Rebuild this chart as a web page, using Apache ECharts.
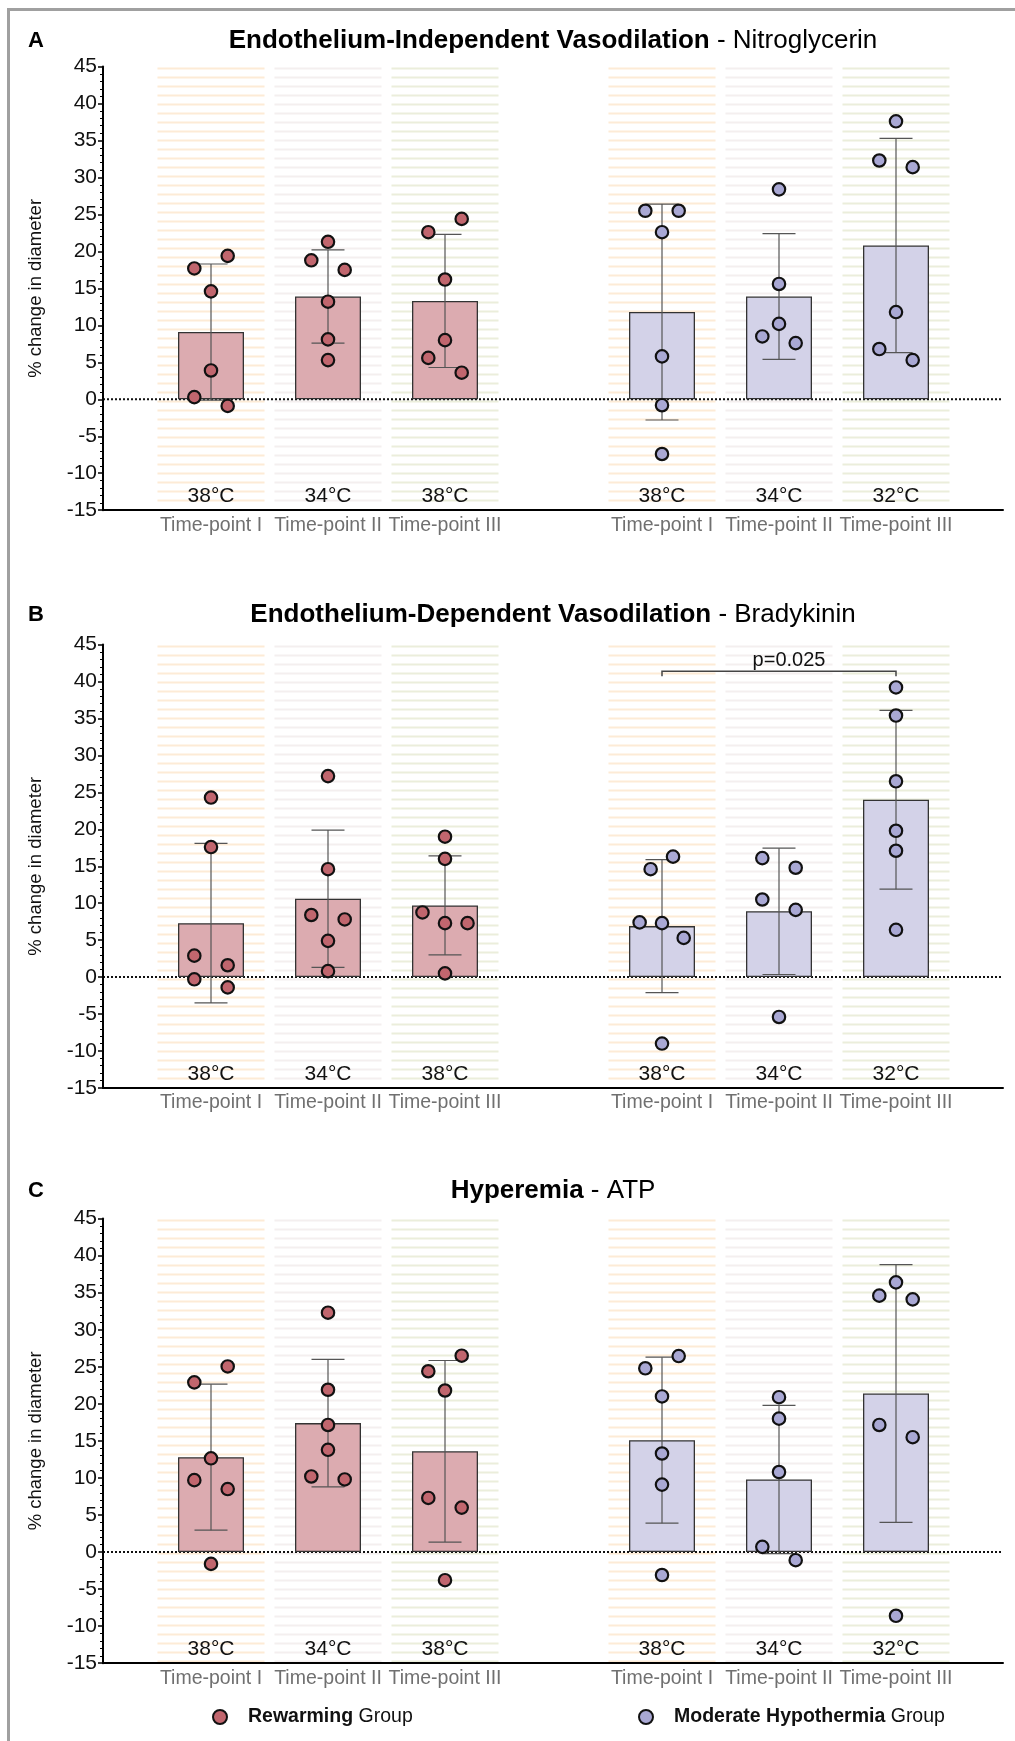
<!DOCTYPE html>
<html><head><meta charset="utf-8">
<script src="https://cdn.jsdelivr.net/npm/echarts@6/dist/echarts.min.js"></script>
<style>html,body{margin:0;padding:0;background:#fff}#c{width:1015px;height:1741px}</style>
</head><body><div id="c"></div><script>
// ---------------- DATA ----------------
const timePoints = ['Time-point I', 'Time-point II', 'Time-point III'];
const rewTemps = ['38°C', '34°C', '38°C'];
const hypTemps = ['38°C', '34°C', '32°C'];
const groupNames = ['Rewarming Group', 'Moderate Hypothermia Group'];
const yMin = -15, yMax = 45, yStep = 5;

// A: Nitroglycerin
const ntgRewMean = [9.1, 13.9, 13.3];
const ntgRewSD = [9.2, 6.3, 9.0];
const ntgHypMean = [11.8, 13.9, 20.8];
const ntgHypSD = [14.6, 8.5, 14.5];
const ntgRewPts = [[0.3, -0.9, 3.9, 14.6, 17.7, 19.4], [21.3, 18.8, 17.5, 13.2, 8.1, 5.3], [24.4, 22.6, 16.2, 8.0, 5.6, 3.6]];
const ntgRewSide = [[-1, 1, 0, 0, -1, 1], [0, -1, 1, 0, 0, 0], [1, -1, 0, 0, -1, 1]];
const ntgHypPts = [[25.5, 25.5, 22.6, 5.8, -0.8, -7.4], [28.4, 15.6, 10.2, 8.5, 7.6], [37.6, 32.3, 31.4, 11.8, 6.8, 5.3]];
const ntgHypSide = [[-1, 1, 0, 0, 0, 0], [0, 0, 0, -1, 1], [0, -1, 1, 0, -1, 1]];

// B: Bradykinin
const bkRewMean = [7.3, 10.6, 9.7];
const bkRewSD = [10.8, 9.3, 6.7];
const bkHypMean = [6.9, 8.9, 24.0];
const bkHypSD = [9.0, 8.55, 12.1];
const bkRewPts = [[24.3, 17.6, 2.9, 1.6, -0.3, -1.4], [27.2, 14.6, 8.4, 7.8, 4.9, 0.8], [19.0, 16.0, 8.75, 7.3, 7.3, 0.5]];
const bkRewSide = [[0, 0, -1, 1, -1, 1], [0, 0, -1, 1, 0, 0], [0, 0, -1.35, 0, 1.35, 0]];
const bkHypPts = [[16.3, 14.6, 7.4, 7.3, 5.3, -9.0], [16.1, 14.8, 10.5, 9.1, -5.4], [39.2, 35.4, 26.5, 19.8, 17.1, 6.4]];
const bkHypSide = [[0.66, -0.68, -1.34, 0, 1.3, 0], [-1, 1, -1, 1, 0], [0, 0, 0, 0, 0, 0]];
const bkBracket = [0, 2, 41.4];          // from category, to category, level
const bkBracketLabel = 'p=0.025';

// C: ATP
const atpRewMean = [12.8, 17.4, 13.6];
const atpRewSD = [9.85, 8.6, 12.25];
const atpHypMean = [15.1, 9.8, 21.4];
const atpHypSD = [11.2, 10.0, 17.4];
const atpRewPts = [[25.05, 22.9, 12.65, 9.7, 8.5, -1.6], [32.3, 21.9, 17.15, 13.8, 10.2, 9.8], [26.5, 24.4, 21.8, 7.3, 6.0, -3.8]];
const atpRewSide = [[1, -1, 0, -1, 1, 0], [0, 0, 0, 0, -1, 1], [1, -1, 0, -1, 1, 0]];
const atpHypPts = [[26.45, 24.8, 21.0, 13.3, 9.1, -3.1], [20.9, 18.0, 10.8, 0.7, -1.1], [36.4, 34.6, 34.1, 17.15, 15.5, -8.6]];
const atpHypSide = [[1, -1, 0, 0, 0, 0], [0, 0, 0, -1, 1], [0, -1, 1, -1, 1, 0]];

// ---------------- LAYOUT / STYLE ----------------
const FONT = '"Liberation Sans", Arial, Helvetica, sans-serif';
const FRAME_L = 103, FRAME_R = 1003;
const GROUP_L = [152.5, 603.5], GROUP_W = 351;
const BAR_W = 66, CAP_HALF = 0.141, JIT = 0.1427, STRIPE_W = 0.915;
const ptColors = ['#c1666e', '#a9a8d4'];
const barColors = ['#dcabb0', '#d3d2e8'];
const stripeColors = ['#fdebd6', '#f4efef', '#ebeedb'];

const panels = [
  { letter: 'A', tb: 'Endothelium-Independent Vasodilation', tr: ' - Nitroglycerin', top: 66.6, bottom: 510.2, titleY: 40.5,
    mean: [ntgRewMean, ntgHypMean], sd: [ntgRewSD, ntgHypSD], pts: [ntgRewPts, ntgHypPts], side: [ntgRewSide, ntgHypSide] },
  { letter: 'B', tb: 'Endothelium-Dependent Vasodilation', tr: ' - Bradykinin', top: 644.6, bottom: 1087.9, titleY: 614.5,
    mean: [bkRewMean, bkHypMean], sd: [bkRewSD, bkHypSD], pts: [bkRewPts, bkHypPts], side: [bkRewSide, bkHypSide], bracket: true },
  { letter: 'C', tb: 'Hyperemia', tr: ' - ATP', top: 1218.6, bottom: 1663.2, titleY: 1190.5,
    mean: [atpRewMean, atpHypMean], sd: [atpRewSD, atpHypSD], pts: [atpRewPts, atpHypPts], side: [atpRewSide, atpHypSide] }
];

const option = { animation: false, backgroundColor: '#fff', grid: [], xAxis: [], yAxis: [], series: [], graphic: [], legend: [] };

panels.forEach((p) => {
  const h = p.bottom - p.top;
  const g0 = option.grid.length;
  option.grid.push({ left: FRAME_L, top: p.top, width: FRAME_R - FRAME_L, height: h });
  option.grid.push({ left: GROUP_L[0], top: p.top, width: GROUP_W, height: h });
  option.grid.push({ left: GROUP_L[1], top: p.top, width: GROUP_W, height: h });

  // frame axes
  const fx = option.xAxis.length;
  option.xAxis.push({ gridIndex: g0, type: 'value', min: 0, max: 1, z: 8,
    axisLine: { show: true, onZero: false, lineStyle: { color: '#000', width: 2 } },
    axisTick: { show: false }, axisLabel: { show: false }, splitLine: { show: false } });
  const fy = option.yAxis.length;
  option.yAxis.push({ gridIndex: g0, type: 'value', min: yMin, max: yMax, interval: yStep, z: 8,
    axisLine: { show: true, onZero: false, lineStyle: { color: '#000', width: 2 } },
    axisTick: { show: true, length: 5, lineStyle: { color: '#000', width: 1.5 } },
    minorTick: { show: true, splitNumber: 5, length: 3, lineStyle: { color: '#000', width: 1 } },
    axisLabel: { fontSize: 21, color: '#111', margin: 6, fontFamily: FONT },
    splitLine: { show: false },
    name: '% change in diameter', nameLocation: 'middle', nameGap: 58,
    nameTextStyle: { fontSize: 18.5, color: '#111', fontFamily: FONT } });
  option.series.push({ type: 'line', xAxisIndex: fx, yAxisIndex: fy, data: [[0, 0], [1, 0]], symbol: 'none', silent: true, z: 2,
    lineStyle: { color: '#111', width: 2, type: [2, 2] } });

  [0, 1].forEach((gi) => {
    const g = g0 + 1 + gi;
    const xi = option.xAxis.length;
    option.xAxis.push({ gridIndex: g, type: 'category', data: timePoints, position: 'bottom', z: 10,
      axisLine: { show: false }, axisTick: { show: false }, splitLine: { show: false },
      axisLabel: { interval: 0, fontSize: 19.5, color: '#707070', margin: 5, fontFamily: FONT } });
    option.xAxis.push({ gridIndex: g, type: 'category', data: gi === 0 ? rewTemps : hypTemps, position: 'bottom', z: 10,
      axisLine: { show: false }, axisTick: { show: false }, splitLine: { show: false },
      axisLabel: { interval: 0, inside: true, fontSize: 21, color: '#111', margin: 3.5, fontFamily: FONT } });
    const yi = option.yAxis.length;
    option.yAxis.push({ gridIndex: g, type: 'value', min: yMin, max: yMax, show: false });

    // striped background columns
    option.series.push({ type: 'custom', xAxisIndex: xi, yAxisIndex: yi, silent: true, z: 1,
      data: timePoints.map((_, i) => [i, yMax]), encode: { x: 0, y: 1 },
      renderItem: (params, api) => {
        const i = api.value(0);
        const t = api.coord([i, yMax]), b = api.coord([i, yMin]);
        const w = api.size([1, 0])[0] * STRIPE_W;
        const ch = [];
        for (let y = t[1] + 1; y < b[1] - 2; y += 9) {
          ch.push({ type: 'rect', shape: { x: t[0] - w / 2, y: y, width: w, height: 2 }, style: { fill: stripeColors[i] } });
        }
        return { type: 'group', children: ch };
      } });

    // mean bars
    option.series.push({ type: 'bar', xAxisIndex: xi, yAxisIndex: yi, silent: true, z: 3, barWidth: BAR_W,
      data: p.mean[gi], itemStyle: { color: barColors[gi], borderColor: '#333', borderWidth: 1.3 } });

    // SD error bars
    option.series.push({ type: 'custom', xAxisIndex: xi, yAxisIndex: yi, silent: true, z: 4,
      data: p.mean[gi].map((m, i) => [i, m, p.sd[gi][i]]), encode: { x: 0, y: 1 },
      renderItem: (params, api) => {
        const i = api.value(0), m = api.value(1), s = api.value(2);
        const hi = api.coord([i, m + s]), lo = api.coord([i, m - s]);
        const cw = api.size([1, 0])[0] * CAP_HALF;
        const st = { stroke: '#555', lineWidth: 1.2 };
        return { type: 'group', children: [
          { type: 'line', shape: { x1: hi[0], y1: hi[1], x2: lo[0], y2: lo[1] }, style: st },
          { type: 'line', shape: { x1: hi[0] - cw, y1: hi[1], x2: hi[0] + cw, y2: hi[1] }, style: st },
          { type: 'line', shape: { x1: lo[0] - cw, y1: lo[1], x2: lo[0] + cw, y2: lo[1] }, style: st }
        ] };
      } });

    // individual points
    const pd = [];
    p.pts[gi].forEach((arr, i) => arr.forEach((v, k) => pd.push([i, v, p.side[gi][i][k]])));
    option.series.push({ type: 'custom', name: groupNames[gi], xAxisIndex: xi, yAxisIndex: yi, silent: true, z: 5,
      data: pd, encode: { x: 0, y: 1 }, itemStyle: { color: ptColors[gi] },
      renderItem: (params, api) => {
        const c = api.coord([api.value(0), api.value(1)]);
        const w = api.size([1, 0])[0];
        return { type: 'circle', shape: { cx: c[0] + api.value(2) * JIT * w, cy: c[1], r: 6.2 },
          style: { fill: ptColors[gi], stroke: '#111', lineWidth: 2.2 } };
      } });

    // significance bracket
    if (p.bracket && gi === 1) {
      option.series.push({ type: 'custom', xAxisIndex: xi, yAxisIndex: yi, silent: true, z: 6,
        data: [bkBracket], encode: { x: 0, y: 2 },
        renderItem: (params, api) => {
          const a = api.coord([api.value(0), api.value(2)]);
          const b = api.coord([api.value(1), api.value(2)]);
          const st = { stroke: '#444', lineWidth: 1.5, fill: null };
          return { type: 'group', children: [
            { type: 'polyline', shape: { points: [[a[0], a[1] + 5], [a[0], a[1]], [b[0], b[1]], [b[0], b[1] + 5]] }, style: st },
            { type: 'text', x: (a[0] + b[0]) / 2 + 10, y: a[1] - 1,
              style: { text: bkBracketLabel, fontSize: 20, fontFamily: FONT, fill: '#111', align: 'center', verticalAlign: 'bottom' } }
          ] };
        } });
    }
  });

  // title and letter
  option.graphic.push({ type: 'text', x: (FRAME_L + FRAME_R) / 2, y: p.titleY, silent: true,
    style: { text: '{b|' + p.tb + '}{r|' + p.tr + '}', align: 'center', verticalAlign: 'middle',
      rich: { b: { fontWeight: 'bold', fontSize: 26, fontFamily: FONT, fill: '#000' },
              r: { fontSize: 26, fontFamily: FONT, fill: '#000' } } } });
  option.graphic.push({ type: 'text', x: 28, y: p.titleY, silent: true,
    style: { text: p.letter, fontWeight: 'bold', fontSize: 22, fontFamily: FONT, fill: '#000', align: 'left', verticalAlign: 'middle' } });
});

// frame border
option.graphic.push({ type: 'line', silent: true, shape: { x1: 8.5, y1: 8, x2: 8.5, y2: 1741 }, style: { stroke: '#a0a0a0', lineWidth: 3 } });
option.graphic.push({ type: 'line', silent: true, shape: { x1: 7, y1: 9.5, x2: 1015, y2: 9.5 }, style: { stroke: '#a0a0a0', lineWidth: 3 } });

// legend
const legendLefts = [212, 638];
const legendBold = ['Rewarming', 'Moderate Hypothermia'];
groupNames.forEach((n, gi) => {
  option.legend.push({ left: legendLefts[gi], top: 1707, padding: 0, selectedMode: false,
    itemWidth: 46, itemHeight: 14, itemGap: 0,
    data: [{ name: n, icon: 'circle', itemStyle: { color: ptColors[gi], borderColor: '#111', borderWidth: 2 } }],
    formatter: () => '{b|' + legendBold[gi] + '} Group',
    textStyle: { fontSize: 19.5, color: '#111', fontFamily: FONT,
      rich: { b: { fontWeight: 'bold', fontSize: 19.5, color: '#111', fontFamily: FONT } } } });
});

const chart = echarts.init(document.getElementById('c'), null, { renderer: 'canvas' });
chart.setOption(option);
</script></body></html>
